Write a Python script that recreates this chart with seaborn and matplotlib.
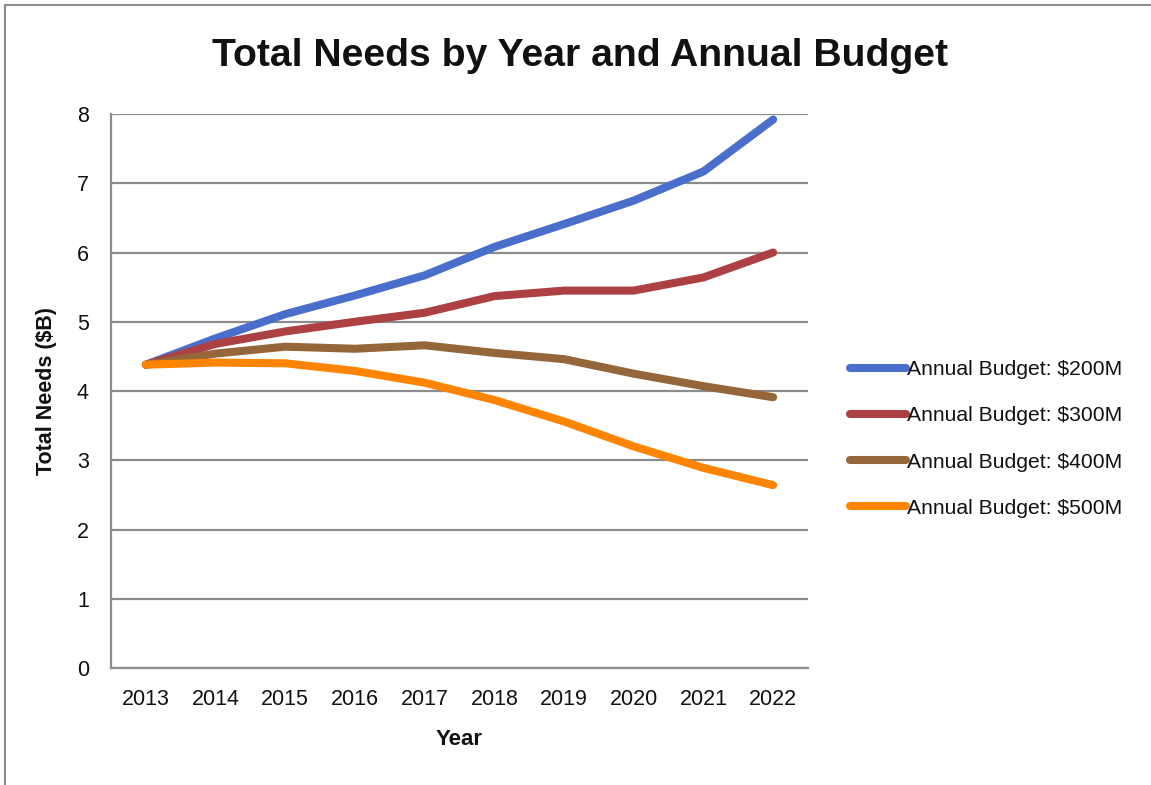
import matplotlib
matplotlib.use("Agg")
import matplotlib.pyplot as plt
import matplotlib.lines as mlines
import seaborn as sns
import pandas as pd

years = ["2013", "2014", "2015", "2016", "2017", "2018", "2019", "2020", "2021", "2022"]
budget_200 = [4.38, 4.76, 5.11, 5.38, 5.67, 6.08, 6.41, 6.75, 7.17, 7.92]
budget_300 = [4.38, 4.68, 4.86, 5.00, 5.13, 5.37, 5.45, 5.45, 5.64, 6.00]
budget_400 = [4.38, 4.54, 4.64, 4.61, 4.66, 4.55, 4.46, 4.25, 4.07, 3.91]
budget_500 = [4.38, 4.41, 4.40, 4.29, 4.12, 3.87, 3.56, 3.20, 2.89, 2.64]
series_names = ["Annual Budget: $200M", "Annual Budget: $300M",
                "Annual Budget: $400M", "Annual Budget: $500M"]
colors = ["#4A6ECB", "#AD4043", "#94663A", "#FF8500"]

frames = []
for name, vals in zip(series_names, [budget_200, budget_300, budget_400, budget_500]):
    frames.append(pd.DataFrame({"idx": range(len(years)), "Year": years,
                                "value": vals, "series": name}))
df = pd.concat(frames, ignore_index=True)

sns.set_theme(style="white")
plt.rcParams["font.family"] = ["Liberation Sans", "DejaVu Sans"]

fig = plt.figure(figsize=(11.51, 7.85), dpi=100)
ax = fig.add_axes([111 / 1151, 117 / 785, 697 / 1151, 554 / 785])

sns.lineplot(data=df, x="idx", y="value", hue="series", palette=colors,
             linewidth=5.8, ax=ax, legend=False, solid_capstyle="round",
             solid_joinstyle="round", sort=False)

ax.set_xlim(-0.5, len(years) - 0.5)
ax.set_ylim(0, 8)
ax.set_xticks(range(len(years)))
ax.set_xticklabels(years)
ax.set_yticks(range(0, 9))
ax.tick_params(axis="both", length=0, labelsize=15.5, colors="#111111")
ax.tick_params(axis="x", pad=15)
ax.tick_params(axis="y", pad=16)
ax.yaxis.grid(True, color="#8C8C8C", linewidth=1.6)
ax.xaxis.grid(False)
for side in ["top", "right"]:
    ax.spines[side].set_visible(False)
for side in ["left", "bottom"]:
    ax.spines[side].set_color("#8C8C8C")
    ax.spines[side].set_linewidth(1.6)
ax.set_axisbelow(True)

ax.set_xlabel("Year", fontsize=16, fontweight="bold", labelpad=14, color="#111111")
ax.set_ylabel("Total Needs ($B)", fontsize=15.5, fontweight="bold", labelpad=14, color="#111111")

fig.text(580 / 1151, 1 - 56 / 785, "Total Needs by Year and Annual Budget",
         ha="center", va="center", fontsize=28.2, fontweight="bold", color="#111111")

handles = [mlines.Line2D([], [], color=c, linewidth=5.8, solid_capstyle="round")
           for c in colors]
leg = fig.legend(handles, series_names, loc="center left",
                 bbox_to_anchor=(842 / 1151, 1 - 439 / 785), frameon=False,
                 fontsize=15.2, handlelength=2.65, handletextpad=0.05,
                 labelspacing=1.28, borderaxespad=0)
for t in leg.get_texts():
    t.set_color("#111111")

# thin frame lines along the left and top edges
fig.add_artist(mlines.Line2D([5 / 1151, 5 / 1151], [0, 1 - 5 / 785],
                             transform=fig.transFigure, color="#8C8C8C", linewidth=1.5))
fig.add_artist(mlines.Line2D([5 / 1151, 1], [1 - 5 / 785, 1 - 5 / 785],
                             transform=fig.transFigure, color="#8C8C8C", linewidth=1.5))

fig.savefig("out.png", dpi=100, facecolor="white")
